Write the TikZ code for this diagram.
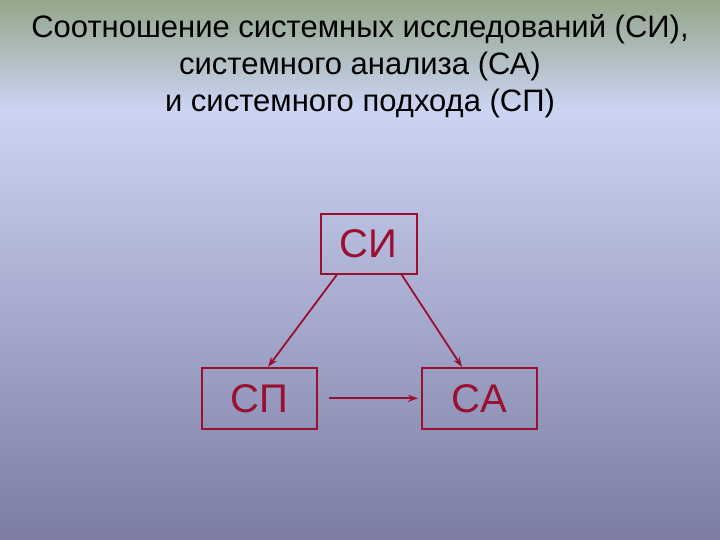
\documentclass[tikz,border=0pt]{standalone}
\usepackage{fontspec}
\setmainfont{Liberation Sans}
\usetikzlibrary{arrows.meta}
\definecolor{bgtop}{HTML}{94A68A}
\definecolor{bgmid}{HTML}{CCD4F4}
\definecolor{bgbot}{HTML}{7C7CA4}
\definecolor{dred}{HTML}{9A1030}
\begin{document}
\begin{tikzpicture}[x=1pt,y=-1pt,
  boxn/.style={draw=dred,line width=1.6pt,text=dred,font=\fontsize{40}{40}\selectfont,inner sep=0pt,anchor=north west},
  conn/.style={draw=dred,line width=1.8pt,-{Stealth[length=10pt,width=7pt]}},
  title/.style={font=\fontsize{31}{37}\selectfont,align=center}]
\fill[top color=bgtop,bottom color=bgmid,draw=none] (0,0) rectangle (720,110);
\fill[top color=bgmid,bottom color=bgbot,draw=none] (0,109.5) rectangle (720,540);
\useasboundingbox (0,0) rectangle (720,540);
\node[title] (t) at (360,66) {Соотношение системных исследований (СИ),\\системного анализа (СА)\\и системного подхода (СП)};
\node[boxn,minimum width=96pt,minimum height=60pt] (si) at (320,213) {СИ};
\node[boxn,minimum width=115pt,minimum height=61pt] (sp) at (201,367) {СП};
\node[boxn,minimum width=115pt,minimum height=61pt] (sa) at (421,367) {СА};
\draw[conn] ([xshift=17pt]si.south west) -- ([xshift=67pt]sp.north west);
\draw[conn] ([xshift=-16pt]si.south east) -- ([xshift=41pt]sa.north west);
\draw[conn] ([xshift=11pt]sp.east) -- ([xshift=-3pt]sa.west);
\end{tikzpicture}
\end{document}
